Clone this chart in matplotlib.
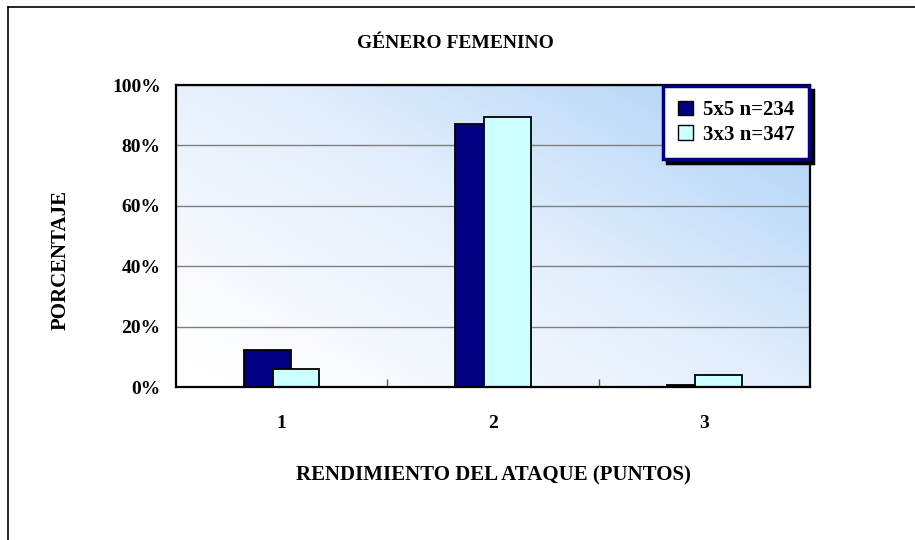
import matplotlib
matplotlib.use("Agg")
import matplotlib.pyplot as plt
import numpy as np
from matplotlib.lines import Line2D
from matplotlib.colors import LinearSegmentedColormap

categories = ["1", "2", "3"]
series_names = ["5x5 n=234", "3x3 n=347"]
values_5x5 = [12.2, 87.0, 0.7]
values_3x3 = [6.0, 89.5, 4.0]
yticks = [0, 20, 40, 60, 80, 100]
ytick_labels = ["0%", "20%", "40%", "60%", "80%", "100%"]

serif = ["Liberation Serif", "DejaVu Serif"]
plt.rcParams["font.family"] = serif

fig = plt.figure(figsize=(9.15, 5.4), dpi=100)
fig.patch.set_facecolor("white")
ax = fig.add_axes([176/915, 1-387/540, 634/915, 302/540])

# gradient background
n = 200
xx, yy = np.meshgrid(np.linspace(0, 1, n), np.linspace(0, 1, n))
g = (xx * 0.55 + yy * 0.45)
cmap = LinearSegmentedColormap.from_list("bg", ["#ffffff", "#e3eefc", "#a9d1f7"])
ax.imshow(g, extent=[0, 1, 0, 1], transform=ax.transAxes, origin="lower",
          cmap=cmap, aspect="auto", zorder=0, vmin=0.05, vmax=1.0)

x = np.arange(1, len(categories) + 1)
w = 0.22
off = 0.068
ax.bar(x - off, values_5x5, width=w, color="#000080", edgecolor="black",
       linewidth=1.3, zorder=3, label=series_names[0])
ax.bar(x + off, values_3x3, width=w, color="#ccffff", edgecolor="black",
       linewidth=1.3, zorder=4, label=series_names[1])

ax.set_xlim(0.5, 3.5)
ax.set_ylim(0, 100)
ax.set_yticks(yticks)
ax.set_yticklabels(ytick_labels, fontsize=14, fontweight="bold")
ax.set_xticks(x)
ax.set_xticklabels(categories, fontsize=14, fontweight="bold")
ax.set_xticks([1.5, 2.5], minor=True)
ax.tick_params(axis="x", which="major", length=0, pad=20)
ax.tick_params(axis="x", which="minor", direction="in", length=6, color="#555555", width=1)
ax.tick_params(axis="y", which="major", length=0, pad=11)
ax.yaxis.grid(True, color="#7f7f7f", linewidth=1)
ax.set_axisbelow(True)
for gl in ax.get_ygridlines():
    gl.set_zorder(1)
for s in ax.spines.values():
    s.set_color("black")
    s.set_linewidth(1.6)
    s.set_zorder(6)

ax.set_ylabel("PORCENTAJE", fontsize=15, fontweight="bold")
ax.yaxis.set_label_coords(-0.166, 0.42)
ax.set_xlabel("RENDIMIENTO DEL ATAQUE (PUNTOS)", fontsize=15, fontweight="bold", labelpad=24)
fig.text(0.498, 1-43/540, "GÉNERO FEMENINO", ha="center", va="center",
         fontsize=14, fontweight="bold")

leg = ax.legend(loc="upper right", bbox_to_anchor=(0.998, 0.997), borderaxespad=0,
                frameon=True, fancybox=False, framealpha=1, edgecolor="#000080",
                prop={"family": serif, "weight": "bold", "size": 15},
                handlelength=0.75, handleheight=0.7, handletextpad=0.45,
                borderpad=0.7, labelspacing=0.2,
                shadow={"color": "black", "alpha": 1, "ox": 3, "oy": -3})
leg.get_frame().set_linewidth(2.5)
for h in leg.legend_handles:
    h.set_edgecolor("black")
    h.set_linewidth(1)
leg.set_zorder(10)

# figure border
fig.add_artist(Line2D([8/915, 8/915], [0, 1-7/540], color="black", linewidth=1.2))
fig.add_artist(Line2D([8/915, 1], [1-7/540, 1-7/540], color="black", linewidth=1.2))

fig.savefig("out.png", dpi=100)
